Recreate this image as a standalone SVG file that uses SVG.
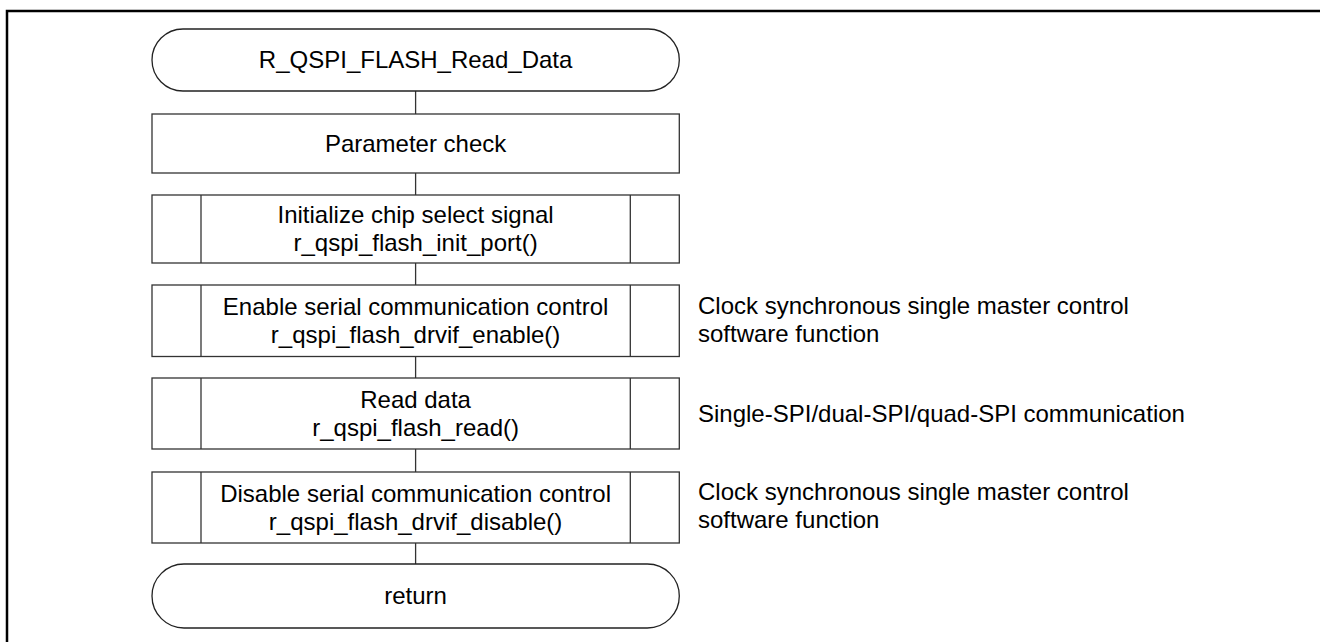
<svg xmlns="http://www.w3.org/2000/svg" width="1320" height="642" viewBox="0 0 1320 642">
<style>
.frame{fill:none;stroke:#000;stroke-width:2.5}
.term{fill:#fff;stroke:#222;stroke-width:1.3}
.box{fill:#fff;stroke:#333;stroke-width:1.3}
.div{stroke:#333;stroke-width:1.3}
.conn{stroke:#333;stroke-width:1.3;fill:none}
text{font-family:"Liberation Sans",Arial,sans-serif;font-size:24px;fill:#000}
.c{text-anchor:middle}
</style>
<rect width="1320" height="642" fill="#fff"/>
<path class="frame" d="M7,645 V11 H1325"/>
<g id="connectors">
<line class="conn" x1="415.6" y1="91" x2="415.6" y2="114"/>
<line class="conn" x1="415.6" y1="173" x2="415.6" y2="195"/>
<line class="conn" x1="415.6" y1="263" x2="415.6" y2="285"/>
<line class="conn" x1="415.6" y1="356.5" x2="415.6" y2="378"/>
<line class="conn" x1="415.6" y1="449" x2="415.6" y2="472"/>
<line class="conn" x1="415.6" y1="543" x2="415.6" y2="564"/>
</g>
<g id="start">
<rect class="term" x="152" y="29" width="527.3" height="62" rx="31" ry="31"/>
<text class="c" x="415.6" y="68.3">R_QSPI_FLASH_Read_Data</text>
</g>
<g id="param">
<rect class="box" x="152" y="114" width="527.3" height="59"/>
<text class="c" x="415.6" y="151.8">Parameter check</text>
</g>
<g id="init">
<rect class="box" x="152" y="195" width="527.3" height="68"/>
<line class="div" x1="201" y1="195" x2="201" y2="263"/>
<line class="div" x1="630.3" y1="195" x2="630.3" y2="263"/>
<text class="c" x="415.6" y="223.3">Initialize chip select signal</text>
<text class="c" x="415.6" y="251">r_qspi_flash_init_port()</text>
</g>
<g id="enable">
<rect class="box" x="152" y="285" width="527.3" height="71.5"/>
<line class="div" x1="201" y1="285" x2="201" y2="356.5"/>
<line class="div" x1="630.3" y1="285" x2="630.3" y2="356.5"/>
<text class="c" x="415.6" y="315.3">Enable serial communication control</text>
<text class="c" x="415.6" y="342.9">r_qspi_flash_drvif_enable()</text>
<text x="698" y="314">Clock synchronous single master control</text>
<text x="698" y="341.5">software function</text>
</g>
<g id="read">
<rect class="box" x="152" y="378" width="527.3" height="71"/>
<line class="div" x1="201" y1="378" x2="201" y2="449"/>
<line class="div" x1="630.3" y1="378" x2="630.3" y2="449"/>
<text class="c" x="415.6" y="408">Read data</text>
<text class="c" x="415.6" y="435.6">r_qspi_flash_read()</text>
<text x="698" y="421.5">Single-SPI/dual-SPI/quad-SPI communication</text>
</g>
<g id="disable">
<rect class="box" x="152" y="472" width="527.3" height="71"/>
<line class="div" x1="201" y1="472" x2="201" y2="543"/>
<line class="div" x1="630.3" y1="472" x2="630.3" y2="543"/>
<text class="c" x="415.6" y="502">Disable serial communication control</text>
<text class="c" x="415.6" y="529.6">r_qspi_flash_drvif_disable()</text>
<text x="698" y="499.5">Clock synchronous single master control</text>
<text x="698" y="527.5">software function</text>
</g>
<g id="end">
<rect class="term" x="152" y="564" width="527.3" height="64" rx="32" ry="32"/>
<text class="c" x="415.6" y="604.3">return</text>
</g>
</svg>
